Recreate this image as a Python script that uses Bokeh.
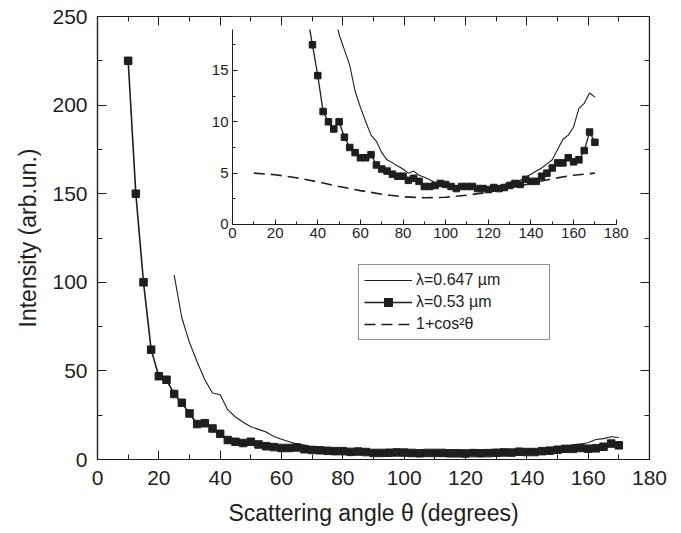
from bokeh.plotting import figure
from bokeh.models import (LinearAxis, Range1d, SingleIntervalTicker, Legend, LegendItem,
                          CustomJSTickFormatter)
from bokeh.embed import file_html
from bokeh.resources import INLINE

# ---------------- data ----------------
angles_053 = [10, 12.5, 15, 17.5, 20, 22.5, 25, 27.5, 30, 32.5, 35, 37.5, 40, 42.5, 45,
              47.5, 50, 52.5, 55, 57.5, 60, 62.5, 65, 67.5, 70, 72.5, 75, 77.5, 80, 82.5,
              85, 87.5, 90, 92.5, 95, 97.5, 100, 102.5, 105, 107.5, 110, 112.5, 115, 117.5,
              120, 122.5, 125, 127.5, 130, 132.5, 135, 137.5, 140, 142.5, 145, 147.5, 150,
              152.5, 155, 157.5, 160, 162.5, 165, 167.5, 170]
intens_053 = [225, 150, 100, 62, 47, 45, 37, 32, 26, 20, 20.5, 17.5, 14.5, 11, 10,
              9.3, 10, 8.5, 7.5, 7.0, 6.5, 6.5, 6.8, 5.8, 5.4, 5.2, 4.9, 4.7, 4.7, 4.3,
              4.5, 4.2, 3.7, 3.7, 3.8, 4.0, 3.9, 3.7, 3.5, 3.7, 3.7, 3.7, 3.5, 3.5,
              3.4, 3.6, 3.5, 3.6, 3.8, 4.0, 3.9, 4.4, 4.2, 4.2, 4.7, 5.0, 5.5,
              6.0, 6.0, 6.5, 6.1, 6.3, 7.2, 9.0, 8.0]

angles_647 = [25, 27.5, 30, 32.5, 35, 37.5, 40, 42.5, 45, 47.5, 50, 52.5, 55, 57.5, 60,
              62.5, 65, 67.5, 70, 72.5, 75, 77.5, 80, 82.5, 85, 87.5, 90, 92.5, 95, 97.5,
              100, 102.5, 105, 107.5, 110, 112.5, 115, 117.5, 120, 122.5, 125, 127.5, 130,
              132.5, 135, 137.5, 140, 142.5, 145, 147.5, 150, 152.5, 155, 157.5, 160,
              162.5, 165, 167.5, 170]
intens_647 = [104, 80, 66, 55, 45, 37.5, 36.5, 28, 24, 21, 18.5, 17.0, 15.5, 13.0, 11.4,
              10.0, 8.7, 8.1, 7.0, 6.3, 6.0, 5.7, 5.4, 5.0, 5.2, 4.8, 4.6, 4.35, 4.1, 4.0,
              3.9, 3.8, 3.75, 3.7, 3.65, 3.6, 3.6, 3.55, 3.6, 3.6, 3.7, 3.9, 4.1,
              4.2, 4.3, 4.6, 4.9, 5.2, 5.5, 5.9, 6.3, 7.3, 8.3, 8.7, 9.5,
              11.3, 11.8, 12.8, 12.4]

angles_cos = [10, 20, 30, 40, 50, 60, 70, 80, 90, 100, 110, 120, 130, 140, 150, 160, 170]
intens_cos = [5.0, 4.85, 4.55, 4.15, 3.7, 3.3, 2.95, 2.7, 2.6, 2.65, 2.85, 3.15, 3.55,
              4.0, 4.45, 4.8, 5.0]

legend_labels = ["λ=0.647 µm", "λ=0.53 µm", "1+cos²θ"]
x_label = "Scattering angle θ (degrees)"
y_label = "Intensity (arb.un.)"

# ---------------- layout constants ----------------
INK = "#1e1e1e"
FONT = "Liberation Sans"
FRAME_W, FRAME_H = 552, 443
MAIN_X = (0, 180)
MAIN_Y = (0, 250)
INSET_X = (0, 180)
INSET_Y = (0, 19)
# inset box as fractions of the main frame (left, right, bottom, top)
IN_L, IN_R, IN_B, IN_T = 0.2446, 0.9397, 0.5305, 0.9709

sx = (INSET_X[1] - INSET_X[0]) / (IN_R - IN_L)
ix0 = INSET_X[0] - IN_L * sx
ix1 = ix0 + sx
sy = (INSET_Y[1] - INSET_Y[0]) / (IN_T - IN_B)
iy0 = INSET_Y[0] - IN_B * sy
iy1 = iy0 + sy

p = figure(frame_width=FRAME_W, frame_height=FRAME_H,
           min_border_left=97, min_border_top=16, min_border_right=24, min_border_bottom=70,
           x_range=Range1d(*MAIN_X), y_range=Range1d(*MAIN_Y),
           output_backend="svg", toolbar_location=None)
p.extra_x_ranges = {"ix": Range1d(ix0, ix1)}
p.extra_y_ranges = {"iy": Range1d(iy0, iy1)}
p.xgrid.visible = False
p.ygrid.visible = False
p.outline_line_color = INK
p.outline_line_width = 1.2
p.background_fill_color = "white"
p.border_fill_color = "white"


def style_axis(ax, label_size, major_in, minor_in, standoff):
    ax.axis_line_color = INK
    ax.axis_line_width = 1.2
    ax.major_tick_line_color = INK
    ax.minor_tick_line_color = INK
    ax.major_tick_in = major_in
    ax.major_tick_out = 0
    ax.minor_tick_in = minor_in
    ax.minor_tick_out = 0
    ax.major_label_text_font = FONT
    ax.major_label_text_font_size = label_size
    ax.major_label_text_color = INK
    ax.major_label_standoff = standoff


# main axes
style_axis(p.xaxis[0], "21px", 9, 5, 11)
style_axis(p.yaxis[0], "21px", 9, 5, 10)
p.xaxis[0].ticker = SingleIntervalTicker(interval=20, num_minor_ticks=2)
p.yaxis[0].ticker = SingleIntervalTicker(interval=50, num_minor_ticks=2)
for ax, lab, so in ((p.xaxis[0], x_label, 12), (p.yaxis[0], y_label, 8)):
    ax.axis_label = lab
    ax.axis_label_text_font = FONT
    ax.axis_label_text_font_size = "23px"
    ax.axis_label_text_font_style = "normal"
    ax.axis_label_text_color = INK
    ax.axis_label_standoff = so

blank = CustomJSTickFormatter(code="return ''")
top_ax = LinearAxis(fixed_location=MAIN_Y[1], formatter=blank,
                    ticker=SingleIntervalTicker(interval=20, num_minor_ticks=2))
right_ax = LinearAxis(fixed_location=MAIN_X[1], formatter=blank,
                      ticker=SingleIntervalTicker(interval=50, num_minor_ticks=2))
style_axis(top_ax, "1px", 9, 5, 0)
style_axis(right_ax, "1px", 9, 5, 0)
p.add_layout(top_ax, "above")
p.add_layout(right_ax, "right")

# inset axes
in_y = LinearAxis(x_range_name="ix", y_range_name="iy", fixed_location=0, bounds=INSET_Y,
                  ticker=SingleIntervalTicker(interval=5, num_minor_ticks=2))
in_x = LinearAxis(x_range_name="ix", y_range_name="iy", fixed_location=0, bounds=INSET_X,
                  ticker=SingleIntervalTicker(interval=20, num_minor_ticks=2))
style_axis(in_y, "15px", 5, 3, 4)
style_axis(in_x, "15px", 5, 3, 4)
in_y.axis_line_width = 1
in_x.axis_line_width = 1
p.add_layout(in_y, "left")
p.add_layout(in_x, "below")

# main data
r647 = p.line(angles_647, intens_647, line_color=INK, line_width=1.1)
r053l = p.line(angles_053, intens_053, line_color=INK, line_width=1.6)
r053s = p.scatter(angles_053, intens_053, marker="square", size=7.5, color=INK)

# inset data
p.line(angles_647, intens_647, line_color=INK, line_width=1.1,
       x_range_name="ix", y_range_name="iy")
p.line(angles_053, intens_053, line_color=INK, line_width=1.3,
       x_range_name="ix", y_range_name="iy")
p.scatter(angles_053, intens_053, marker="square", size=6.5, color=INK,
          x_range_name="ix", y_range_name="iy")
rcos = p.line(angles_cos, intens_cos, line_color=INK, line_width=1.6, line_dash="11 6",
              x_range_name="ix", y_range_name="iy")
# white mask above the inset's top
p.quad(left=[INSET_X[0]], right=[INSET_X[1]], bottom=[INSET_Y[1]], top=[iy1],
       x_range_name="ix", y_range_name="iy", fill_color="white", line_color=None)

legend = Legend(items=[LegendItem(label=legend_labels[0], renderers=[r647]),
                       LegendItem(label=legend_labels[1], renderers=[r053l, r053s]),
                       LegendItem(label=legend_labels[2], renderers=[rcos])],
                location=(261, 119), orientation="vertical",
                glyph_width=48, glyph_height=20, label_width=128, label_height=20,
                label_standoff=4, padding=5, spacing=2, margin=0,
                border_line_color=INK, border_line_width=1.2,
                label_text_font=FONT, label_text_font_size="16px",
                label_text_color=INK, background_fill_alpha=1.0)
p.add_layout(legend)

open("out.html", "w").write(file_html(p, INLINE))
